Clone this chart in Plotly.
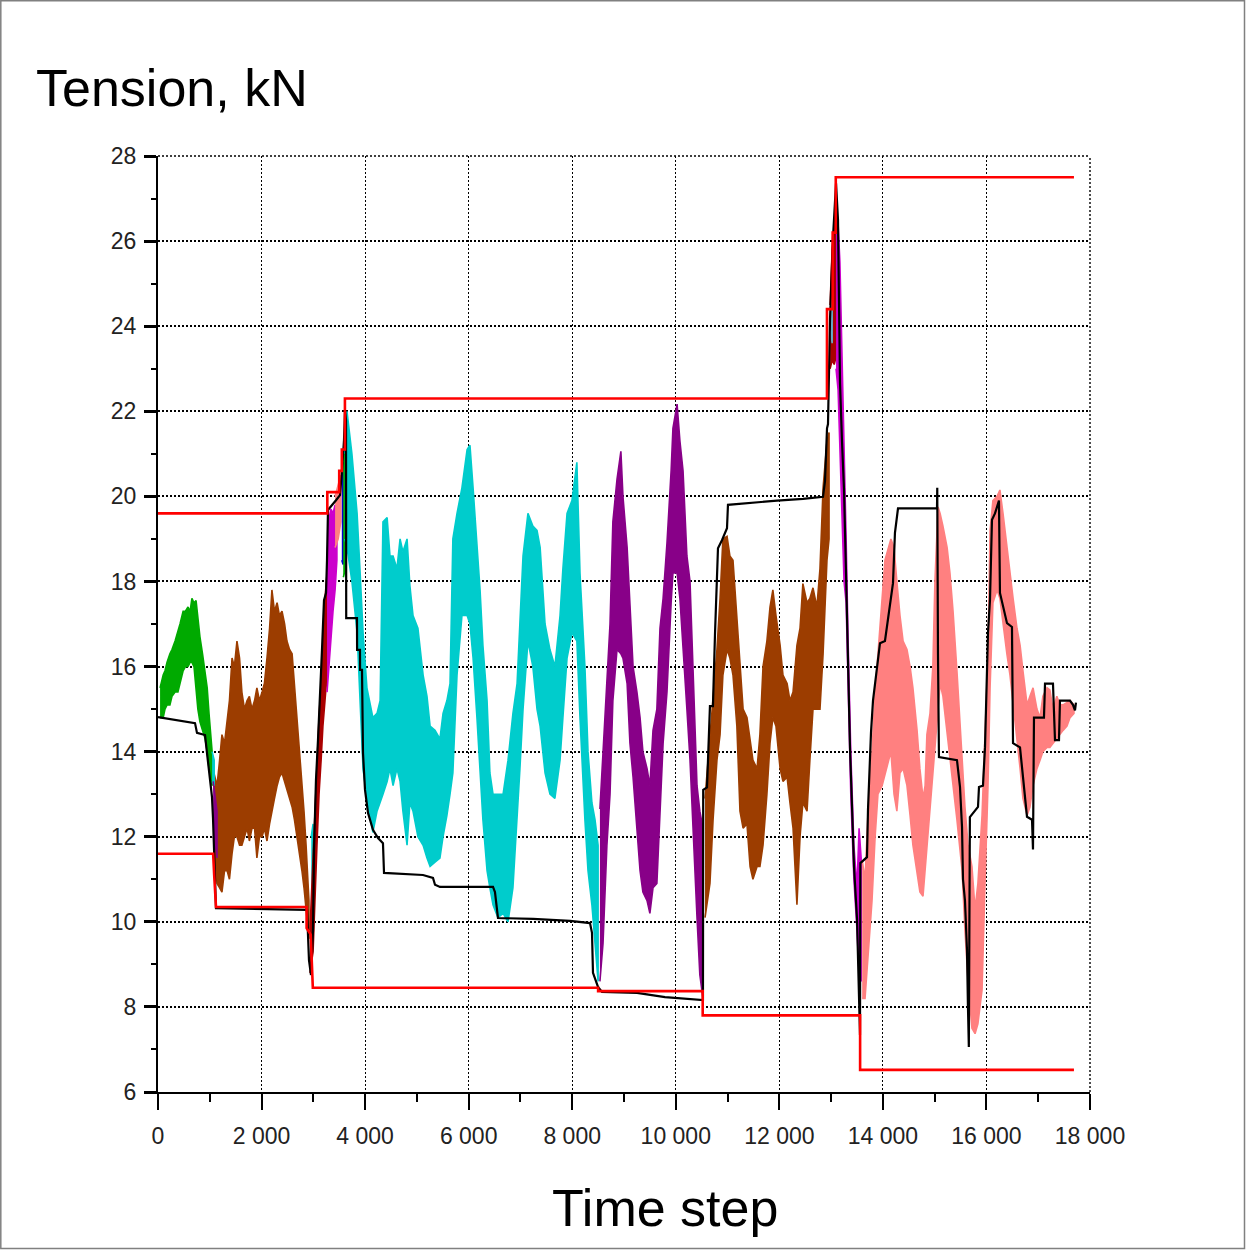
import plotly.graph_objects as go

# ---------------- axis ticks ----------------
X_TICKS = [0, 2000, 4000, 6000, 8000, 10000, 12000, 14000, 16000, 18000]
X_TICK_LABELS = ["0", "2 000", "4 000", "6 000", "8 000", "10 000", "12 000", "14 000", "16 000", "18 000"]
Y_TICKS = [6, 8, 10, 12, 14, 16, 18, 20, 22, 24, 26, 28]
Y_TICK_LABELS = ["6", "8", "10", "12", "14", "16", "18", "20", "22", "24", "26", "28"]

# ---------------- envelopes (red step lines) ----------------
RED_UP_T = [0, 3270, 3270, 3500, 3500, 3550, 3550, 3610, 3610, 12920, 12920, 13030, 13030, 13090, 13090, 17690]
RED_UP_V = [19.6, 19.6, 20.1, 20.1, 20.6, 20.6, 21.1, 21.1, 22.3, 22.3, 24.4, 24.4, 26.2, 26.2, 27.5, 27.5]
RED_LO_T = [0, 1065, 1085, 1120, 2870, 2870, 2950, 2990, 8500, 8500, 10520, 10520, 13560, 13560, 17690]
RED_LO_V = [11.6, 11.6, 11.1, 10.35, 10.35, 9.85, 9.7, 8.45, 8.45, 8.37, 8.37, 7.8, 7.8, 6.52, 6.52]

# ---------------- black line (time step, tension) ----------------
BLACK = [
    (0, 14.81), (715, 14.67), (753, 14.44), (908, 14.39), (946, 13.97), (1004, 13.33), (1043, 12.93),
    (1062, 12.44), (1101, 10.98), (1120, 10.32), (2878, 10.28), (2916, 9.10), (2955, 8.75), (2994, 9.81),
    (3013, 11.69), (3051, 13.33), (3090, 14.27), (3129, 15.21), (3167, 16.39), (3206, 17.56), (3245, 17.73),
    (3264, 18.5), (3283, 19.68), (3438, 19.91), (3515, 20.03), (3554, 20.62), (3592, 21.32), (3612, 22.03),
    (3631, 21.8), (3635, 17.14), (3843, 17.14), (3845, 16.39), (3901, 16.39), (3903, 15.92), (3940, 15.92),
    (3959, 13.97), (3998, 13.1), (4056, 12.56), (4152, 12.16), (4249, 11.97), (4345, 11.85), (4365, 11.15),
    (5118, 11.1), (5311, 11.03), (5350, 10.87), (5446, 10.82), (6470, 10.82), (6508, 10.7), (6566, 10.09),
    (7242, 10.07), (7957, 10.02), (8343, 9.97), (8382, 9.74), (8401, 8.8), (8478, 8.56), (8498, 8.47),
    (8575, 8.35), (9251, 8.33), (9792, 8.23), (10332, 8.19), (10506, 8.16), (10525, 8.16), (10530, 13.1),
    (10603, 13.16), (10660, 15.07), (10718, 15.07), (10757, 16.74), (10815, 18.78), (10892, 18.97),
    (10989, 19.25), (11008, 19.8), (11433, 19.85), (11955, 19.9), (12457, 19.94), (12843, 19.99),
    (12882, 20.36), (12921, 21.6), (12940, 21.7), (12979, 24.17), (13037, 26.1), (13095, 27.36),
    (13133, 26.5), (13153, 24.45), (13172, 22.66), (13211, 21.27), (13249, 20.17), (13288, 18.2),
    (13326, 16.0), (13365, 14.08), (13404, 12.7), (13442, 11.3), (13500, 10.07), (13520, 8.96),
    (13558, 7.34), (13565, 11.38), (13693, 11.52), (13712, 12.63), (13770, 14.44), (13809, 15.2),
    (13886, 16.0), (13944, 16.55), (14040, 16.6), (14098, 17.1), (14195, 17.96), (14233, 19.14),
    (14292, 19.72), (15045, 19.72), (15050, 20.2), (15064, 16.3), (15083, 13.87), (15431, 13.8),
    (15489, 13.17), (15528, 12.23), (15547, 11.0), (15585, 10.5), (15624, 9.34), (15643, 8.0),
    (15660, 7.06), (15680, 12.46), (15837, 12.7), (15856, 13.17), (15933, 13.2), (15972, 14.1),
    (16011, 16.0), (16030, 16.8), (16068, 17.56), (16107, 19.45), (16165, 19.6), (16242, 19.9),
    (16261, 17.73), (16397, 17.02), (16493, 16.93), (16513, 14.2), (16648, 14.1), (16706, 13.33),
    (16783, 12.47), (16880, 12.4), (16899, 11.7), (16918, 14.8), (17111, 14.8), (17131, 15.6),
    (17285, 15.6), (17324, 14.27), (17401, 14.27), (17420, 15.2), (17613, 15.2), (17671, 15.1),
    (17710, 14.97), (17729, 15.15),
]

# ---------------- oscillating series: (time step, upper, lower) ----------------
GREEN_1 = [(40, 15.5, 14.8), (100, 15.8, 14.8), (135, 15.9, 15.0), (175, 16.1, 15.1), (230, 16.3, 15.1),
           (270, 16.4, 15.3), (330, 16.6, 15.4), (385, 16.8, 15.4), (425, 17.0, 15.6), (485, 17.3, 15.9),
           (530, 17.3, 16.0), (580, 17.4, 16.0), (620, 17.3, 16.1), (655, 17.6, 16.1), (695, 17.5, 16.0),
           (735, 17.55, 15.5), (770, 17.1, 15.0), (810, 16.7, 14.7), (860, 16.3, 14.5), (910, 15.8, 14.3),
           (950, 15.5, 14.0), (985, 14.9, 13.6), (1045, 14.0, 13.2)]

BROWN_1 = [(1080, 13.5, 11.8), (1140, 13.2, 10.9), (1190, 13.8, 10.8), (1235, 14.4, 10.7), (1285, 14.2, 11.2),
           (1335, 14.8, 11.2), (1380, 15.2, 11.0), (1430, 16.2, 11.6), (1475, 16.0, 12.0), (1525, 16.6, 12.0),
           (1575, 16.2, 11.8), (1620, 15.4, 11.8), (1670, 15.0, 12.0), (1720, 15.2, 12.2), (1765, 15.3, 11.9),
           (1815, 15.0, 12.2), (1865, 15.2, 12.2), (1910, 15.5, 11.5), (1960, 15.2, 12.0), (2010, 15.4, 12.0),
           (2055, 15.6, 12.2), (2105, 16.2, 11.9), (2155, 16.9, 12.3), (2200, 17.8, 12.6), (2250, 17.3, 12.9),
           (2300, 17.5, 13.2), (2345, 17.2, 13.4), (2395, 17.3, 13.5), (2445, 17.0, 13.3), (2490, 16.6, 13.1),
           (2540, 16.4, 12.9), (2590, 16.3, 12.7), (2635, 15.6, 12.4), (2685, 14.8, 12.0), (2735, 14.0, 11.6),
           (2780, 13.3, 11.2), (2820, 12.6, 10.8), (2860, 11.8, 10.4), (2915, 10.5, 9.6)]

CYAN_BIT_1 = [(1045, 14.0, 13.3), (1085, 13.8, 13.2)]
PURPLE_BIT_1 = [(1065, 13.3, 12.0), (1100, 13.0, 11.9), (1140, 12.6, 11.5)]
CYAN_BIT_2 = [(2960, 12.0, 9.0), (2995, 12.3, 9.8)]
DARKRED_1 = [(2935, 9.8, 8.8), (2995, 11.5, 9.3), (3030, 12.8, 10.5), (3070, 14.0, 11.8), (3110, 14.8, 13.0),
             (3150, 15.6, 13.8), (3185, 16.5, 14.6), (3225, 17.6, 15.2), (3265, 18.2, 15.8)]
MAGENTA_1 = [(3265, 18.5, 15.4), (3305, 19.5, 16.0), (3340, 19.7, 16.6), (3380, 19.6, 17.3),
             (3420, 19.8, 17.8), (3455, 19.5, 18.5)]
SALMON_BIT = [(3420, 20.0, 18.8), (3480, 20.3, 19.0), (3530, 20.5, 19.4)]
BLUE_BIT = [(3550, 20.5, 18.5), (3575, 20.8, 18.4)]
GREEN_BIT = [(3580, 21.0, 18.1), (3600, 21.2, 18.2)]

CYAN_1 = [(3610, 21.0, 19.0), (3650, 22.0, 18.8), (3745, 21.0, 18.0), (3845, 19.6, 16.8), (3900, 18.3, 15.5),
          (3960, 16.8, 13.6), (4035, 15.5, 12.9), (4095, 15.1, 12.5), (4150, 14.8, 12.1), (4230, 14.9, 12.6),
          (4290, 15.2, 12.8), (4345, 19.4, 13.0), (4425, 19.5, 13.3), (4480, 18.6, 13.6), (4540, 18.6, 13.2),
          (4615, 18.3, 13.6), (4675, 19.0, 13.3), (4730, 18.7, 12.6), (4810, 19.0, 11.8), (4865, 17.9, 12.8),
          (4925, 17.2, 12.6), (5020, 16.9, 12.0), (5120, 15.8, 11.8), (5195, 15.3, 11.5), (5255, 14.6, 11.3),
          (5350, 14.5, 11.4), (5445, 14.3, 11.5), (5505, 14.9, 12.0), (5580, 15.2, 12.5), (5640, 15.6, 13.0),
          (5695, 19.0, 13.5), (5775, 19.6, 15.8), (5870, 20.2, 17.2), (5970, 21.1, 17.2), (6025, 21.2, 17.0),
          (6085, 20.2, 16.2), (6160, 18.8, 14.8), (6220, 17.8, 13.6), (6275, 16.5, 12.4), (6355, 15.2, 11.2),
          (6410, 13.5, 10.8), (6470, 13.0, 10.4), (6565, 13.0, 10.1), (6665, 13.0, 10.2), (6760, 13.8, 10.0),
          (6855, 14.9, 10.8), (6935, 15.6, 12.4), (6990, 17.2, 13.6), (7050, 18.6, 15.0), (7145, 19.6, 16.6),
          (7240, 19.3, 16.0), (7320, 19.2, 15.0), (7380, 18.8, 14.6), (7475, 17.0, 13.5), (7570, 16.4, 13.0),
          (7665, 16.0, 12.9), (7765, 17.2, 13.8), (7820, 18.3, 14.8), (7900, 19.6, 16.2), (7995, 19.9, 16.8),
          (8090, 20.8, 16.6), (8150, 18.2, 14.8), (8245, 16.0, 12.4), (8305, 14.0, 11.2), (8380, 12.8, 10.4),
          (8440, 12.4, 9.6), (8500, 11.8, 8.6)]

PURPLE_1 = [(8535, 12.65, 8.6), (8595, 14.0, 9.5), (8670, 15.6, 11.8), (8730, 17.0, 13.0), (8785, 19.4, 15.2),
            (8865, 20.4, 16.4), (8940, 21.06, 16.3), (8980, 20.0, 16.2), (9060, 18.8, 15.6), (9115, 17.5, 14.2),
            (9175, 16.0, 13.4), (9250, 15.4, 12.2), (9310, 14.8, 11.2), (9365, 14.0, 10.7), (9445, 13.6, 10.5),
            (9500, 13.2, 10.2), (9560, 14.5, 10.8), (9635, 15.0, 10.9), (9695, 16.9, 12.5), (9755, 17.6, 14.2),
            (9830, 18.9, 15.4), (9910, 20.6, 17.5), (9945, 21.6, 18.2), (10025, 22.17, 18.2), (10080, 21.3, 17.6),
            (10140, 20.6, 16.4), (10215, 18.6, 15.0), (10275, 18.0, 13.8), (10330, 16.2, 12.4),
            (10410, 13.2, 10.1), (10465, 12.6, 8.75), (10525, 12.2, 8.2)]

BROWN_2 = [(10565, 12.9, 10.1), (10660, 14.3, 10.9), (10720, 15.3, 12.4), (10795, 16.4, 13.8), (10855, 17.6, 14.4),
           (10910, 19.0, 15.8), (10990, 19.06, 16.4), (11045, 18.6, 16.2), (11105, 18.5, 15.8), (11180, 17.2, 14.6),
           (11240, 16.2, 12.6), (11300, 15.0, 12.2), (11375, 14.8, 12.3), (11435, 14.3, 11.3), (11490, 13.8, 11.0),
           (11570, 13.6, 11.3), (11625, 14.4, 11.3), (11685, 16.0, 11.8), (11760, 16.6, 13.0), (11820, 17.4, 14.2),
           (11875, 17.8, 14.8), (11935, 17.2, 14.6), (12015, 16.5, 13.6), (12070, 15.8, 13.3), (12150, 15.6, 13.4),
           (12205, 15.2, 12.8), (12265, 15.4, 12.2), (12340, 16.5, 10.4), (12400, 16.9, 12.0), (12455, 17.95, 12.8),
           (12535, 17.5, 12.6), (12590, 17.6, 13.8), (12650, 17.85, 15.0), (12725, 17.4, 15.0), (12785, 18.3, 15.0),
           (12845, 20.2, 16.3), (12920, 21.3, 18.5), (12960, 21.5, 19.0)]

DARKRED_2 = [(12980, 24.5, 23.0), (13020, 25.8, 23.2), (13060, 26.3, 23.1), (13100, 26.6, 23.3), (13130, 26.4, 23.5)]
LIGHTBLUE_BIT = [(12990, 24.7, 23.9), (13020, 24.5, 23.6)]
MAGENTA_2 = [(13095, 26.3, 23.0), (13135, 26.4, 22.5), (13170, 25.5, 21.0), (13210, 23.5, 19.5), (13250, 21.0, 18.0),
             (13290, 19.0, 17.5), (13330, 16.5, 15.5), (13380, 14.0, 13.0), (13440, 11.8, 11.0),
             (13500, 10.8, 9.8), (13540, 12.2, 8.8), (13580, 11.5, 8.6)]

SALMON_1 = [(13600, 11.45, 8.2), (13655, 11.0, 8.2), (13710, 12.5, 9.0), (13790, 14.0, 10.5), (13850, 15.4, 12.0),
            (13905, 16.3, 13.0), (13985, 17.5, 13.2), (14040, 18.5, 13.5), (14155, 19.0, 14.0), (14215, 18.8, 13.0),
            (14270, 18.0, 12.6), (14330, 17.2, 13.5), (14390, 16.6, 13.6), (14465, 16.4, 13.2), (14525, 16.0, 12.5),
            (14580, 15.5, 11.8), (14660, 14.5, 11.2), (14715, 13.6, 10.7), (14775, 12.9, 10.6), (14815, 13.2, 11.2),
            (14850, 14.4, 11.8), (14910, 14.9, 12.8), (14965, 16.0, 13.5), (15005, 18.0, 14.2), (15065, 19.75, 15.0),
            (15105, 19.6, 15.6), (15160, 19.3, 15.3), (15240, 18.8, 14.5), (15295, 18.2, 13.8), (15355, 17.3, 13.2),
            (15430, 15.9, 12.4), (15530, 13.9, 11.2), (15585, 12.7, 9.8), (15645, 11.8, 8.6), (15720, 11.3, 7.5),
            (15780, 10.3, 7.37), (15835, 10.9, 7.6), (15915, 12.5, 8.4), (15970, 14.5, 10.8), (16030, 16.3, 13.2),
            (16070, 19.2, 15.5), (16125, 19.9, 17.5), (16205, 20.0, 17.8), (16260, 20.15, 17.6), (16320, 19.6, 17.0),
            (16395, 18.8, 16.3), (16455, 18.2, 15.8), (16515, 17.6, 15.2), (16590, 16.9, 14.3), (16650, 16.5, 13.6),
            (16705, 15.9, 12.9), (16785, 15.1, 12.5), (16840, 15.3, 12.7), (16900, 15.5, 13.2), (16975, 15.0, 13.6),
            (17035, 14.8, 13.8), (17090, 15.3, 14.0), (17170, 15.5, 14.1), (17225, 15.45, 14.1), (17285, 15.0, 14.2),
            (17360, 15.3, 14.3), (17420, 15.1, 14.4), (17480, 15.1, 14.5), (17555, 15.15, 14.6),
            (17615, 15.2, 14.8), (17690, 15.1, 14.9)]

# colours
C_GREEN = "#00aa00"
C_BROWN = "#9c3d00"
C_CYAN = "#00cccc"
C_PURPLE = "#880088"
C_MAGENTA = "#cc00cc"
C_DARKRED = "#aa0000"
C_SALMON = "#ff8080"
C_BLUE = "#0000cc"
C_LIGHTBLUE = "#66aacc"

BANDS = [
    (GREEN_1, C_GREEN), (BROWN_1, C_BROWN), (CYAN_BIT_1, C_CYAN), (PURPLE_BIT_1, C_PURPLE),
    (CYAN_BIT_2, C_CYAN), (DARKRED_1, C_DARKRED), (MAGENTA_1, C_MAGENTA), (SALMON_BIT, C_SALMON),
    (BLUE_BIT, C_BLUE), (GREEN_BIT, C_GREEN), (CYAN_1, C_CYAN), (PURPLE_1, C_PURPLE), (BROWN_2, C_BROWN),
    (DARKRED_2, C_DARKRED), (LIGHTBLUE_BIT, C_LIGHTBLUE), (MAGENTA_2, C_MAGENTA), (SALMON_1, C_SALMON),
]

fig = go.Figure()

for seg, col in BANDS:
    ts = [p[0] for p in seg]
    hi = [p[1] for p in seg]
    lo = [p[2] for p in seg]
    fig.add_trace(go.Scatter(x=ts + ts[::-1], y=hi + lo[::-1], mode="lines", fill="toself",
                             fillcolor=col, line=dict(color=col, width=1.6), hoverinfo="skip"))

fig.add_trace(go.Scatter(x=[p[0] for p in BLACK], y=[p[1] for p in BLACK], mode="lines",
                         line=dict(color="black", width=2.2), hoverinfo="skip"))
fig.add_trace(go.Scatter(x=RED_UP_T, y=RED_UP_V, mode="lines", line=dict(color="#ff0000", width=2.6),
                         hoverinfo="skip"))
fig.add_trace(go.Scatter(x=RED_LO_T, y=RED_LO_V, mode="lines", line=dict(color="#ff0000", width=2.6),
                         hoverinfo="skip"))

TICK_FONT = dict(family="Liberation Sans Narrow, Arial Narrow, Liberation Sans, Arial", size=23, color="#222222")
L, R, T, B = 158, 156, 156, 158
W, H = 1246, 1250
PW, PH = W - L - R, H - T - B

fig.update_layout(
    width=W, height=H,
    margin=dict(l=L, r=R, t=T, b=B, pad=0),
    paper_bgcolor="white", plot_bgcolor="white",
    showlegend=False,
    xaxis=dict(range=[0, 18000], tickvals=X_TICKS, ticktext=X_TICK_LABELS, ticks="outside",
               ticklen=16, tickwidth=2, tickcolor="black", showline=True, linecolor="black", linewidth=2,
               showgrid=True, gridcolor="black", gridwidth=1.4, griddash="2px,2px", zeroline=False,
               tickfont=TICK_FONT, ticklabelstandoff=6,
               minor=dict(dtick=1000, tick0=0, ticks="outside", ticklen=8, tickwidth=2, tickcolor="black",
                          showgrid=False)),
    yaxis=dict(range=[6, 28], tickvals=Y_TICKS, ticktext=Y_TICK_LABELS, ticks="outside",
               ticklen=12, tickwidth=2.5, tickcolor="black", showline=True, linecolor="black", linewidth=2,
               showgrid=True, gridcolor="black", gridwidth=1.6, griddash="2px,2px", zeroline=False,
               tickfont=TICK_FONT, ticklabelstandoff=3,
               minor=dict(dtick=1, tick0=0, ticks="outside", ticklen=5, tickwidth=2, tickcolor="black",
                          showgrid=False)),
    annotations=[
        dict(text="Tension, kN", xref="paper", yref="paper", x=(34 - L) / PW, y=(H - B - 88) / PH,
             xanchor="left", yanchor="middle", showarrow=False,
             font=dict(family="Liberation Sans, Arial", size=52, color="black")),
        dict(text="Time step", xref="paper", yref="paper", x=(665 - L) / PW, y=(H - B - 1208) / PH,
             xanchor="center", yanchor="middle", showarrow=False,
             font=dict(family="Liberation Sans, Arial", size=52, color="black")),
    ],
    shapes=[
        dict(type="line", xref="paper", yref="paper", x0=0, x1=1, y0=1, y1=1,
             line=dict(color="black", width=1.6, dash="2px,2px")),
        dict(type="line", xref="paper", yref="paper", x0=1, x1=1, y0=0, y1=1,
             line=dict(color="black", width=1.4, dash="2px,2px")),
        dict(type="rect", xref="paper", yref="paper", x0=(0.8 - L) / PW, x1=(W - 1.5 - L) / PW,
             y0=(H - B - (H - 1.5)) / PH, y1=(H - B - 0.8) / PH,
             line=dict(color="#808080", width=1.5), fillcolor="rgba(0,0,0,0)", layer="below"),
    ],
)

fig.write_html("out.html")
